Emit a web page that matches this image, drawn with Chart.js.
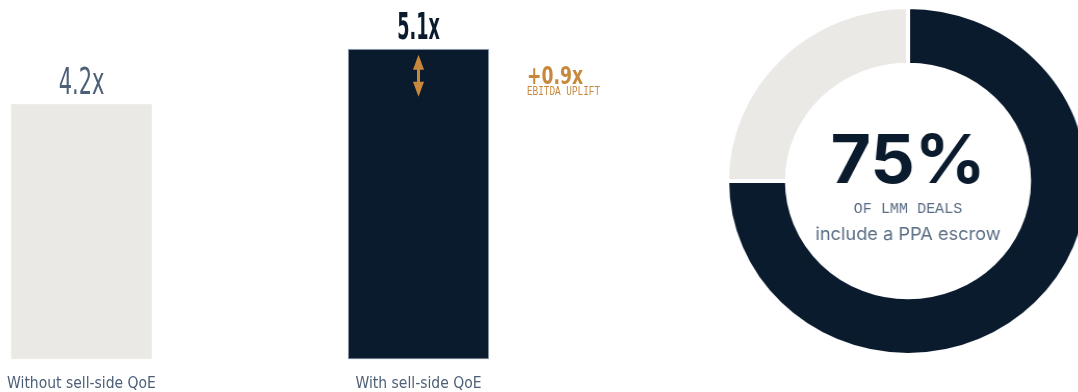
<!DOCTYPE html>
<html>
<head>
<meta charset="utf-8">
<script src="https://cdn.jsdelivr.net/npm/chart.js@4.4.1/dist/chart.umd.min.js"></script>
<style>
  html, body { margin: 0; padding: 0; background: #ffffff; overflow: hidden; }
  body { width: 1078px; height: 392px; position: relative; }
  #barWrap { position: absolute; left: -87px; top: 0; width: 704px; height: 408px; }
  #donutWrap { position: absolute; left: 727.5px; top: 1px; width: 360px; height: 360px; transform: scaleX(1.04); transform-origin: 50% 50%; }
</style>
</head>
<body>
<div id="barWrap"><canvas id="bars"></canvas></div>
<div id="donutWrap"><canvas id="donut"></canvas></div>
<script>
// ---- data ----
const categories = ['Without sell-side QoE', 'With sell-side QoE'];
const multiples = [4.2, 5.1];
const valueLabels = ['4.2x', '5.1x'];
const upliftLabel = '+0.9x';
const upliftCaption = 'EBITDA UPLIFT';
const shareCategories = ['Include a PPA escrow', 'No PPA escrow'];
const shareValues = [75, 25];
const shareHeadline = '75%';
const shareCaption1 = 'OF LMM DEALS';
const shareCaption2 = 'include a PPA escrow';

// ---- styles ----
const NAVY = '#0b1b2e';
const LIGHT = '#eae9e5';
const SLATE = '#4c5f76';
const ORANGE = '#c8883c';
const CONDENSED = "'DejaVu Sans Condensed', 'DejaVu Sans', sans-serif";
const MONO = "'Liberation Mono', 'DejaVu Sans Mono', monospace";
const GEO = "'Inter', 'Noto Sans', sans-serif";

const barLabels = {
  id: 'barLabels',
  afterDatasetsDraw(chart) {
    const ctx = chart.ctx;
    const meta = chart.getDatasetMeta(0);
    const y = chart.scales.y;
    meta.data.forEach((bar, i) => {
      ctx.save();
      ctx.font = (i === 1 ? '700 ' : '200 ') + '37px ' + CONDENSED;
      ctx.fillStyle = i === 1 ? NAVY : SLATE;
      ctx.textAlign = 'center';
      ctx.textBaseline = 'alphabetic';
      ctx.translate(bar.x, bar.y - 10);
      ctx.scale(i === 1 ? 0.53 : 0.63, 1);
      ctx.fillText(valueLabels[i], 0, 0);
      ctx.restore();
    });
    // uplift arrow on second bar
    const b = meta.data[1];
    const top = y.getPixelForValue(multiples[1]) + 6;
    const bot = y.getPixelForValue(multiples[0]) - 7;
    const x = b.x;
    ctx.save();
    ctx.fillStyle = ORANGE;
    ctx.strokeStyle = ORANGE;
    ctx.lineWidth = 3;
    ctx.beginPath(); ctx.moveTo(x, top + 12); ctx.lineTo(x, bot - 12); ctx.stroke();
    ctx.beginPath(); ctx.moveTo(x, top); ctx.lineTo(x - 5.5, top + 15); ctx.lineTo(x + 5.5, top + 15); ctx.closePath(); ctx.fill();
    ctx.beginPath(); ctx.moveTo(x, bot); ctx.lineTo(x - 5.5, bot - 15); ctx.lineTo(x + 5.5, bot - 15); ctx.closePath(); ctx.fill();
    // uplift text
    const mid = (top + bot) / 2;
    ctx.textAlign = 'left';
    ctx.textBaseline = 'alphabetic';
    ctx.save();
    ctx.translate(x + 108.5, mid + 8.5);
    ctx.scale(0.8, 1);
    ctx.font = '700 24px ' + CONDENSED;
    ctx.fillText(upliftLabel, 0, 0);
    ctx.restore();
    ctx.save();
    ctx.translate(x + 108.5, mid + 19.5);
    ctx.scale(0.78, 1);
    ctx.font = '400 12px ' + MONO;
    ctx.fillText(upliftCaption, 0, 0);
    ctx.restore();
    ctx.restore();
  }
};

new Chart(document.getElementById('bars'), {
  type: 'bar',
  data: {
    labels: categories,
    datasets: [{
      data: multiples,
      backgroundColor: [LIGHT, NAVY],
      borderColor: [LIGHT, '#9aa8ba'],
      borderWidth: 1,
      borderSkipped: false,
      barPercentage: 0.42,
      categoryPercentage: 1
    }]
  },
  options: {
    responsive: true,
    maintainAspectRatio: false,
    animation: false,
    events: [],
    layout: { padding: { top: 24.5, bottom: 0, left: 0, right: 30 } },
    plugins: { legend: { display: false }, tooltip: { enabled: false } },
    scales: {
      x: {
        grid: { display: false, drawTicks: false },
        border: { display: false },
        ticks: { color: SLATE, font: { family: CONDENSED, size: 15.5 }, padding: 15 }
      },
      y: { display: false, min: 0, max: 5.5 }
    }
  },
  plugins: [barLabels]
});

const centerText = {
  id: 'centerText',
  afterDraw(chart) {
    const arc = chart.getDatasetMeta(0).data[0];
    const cx = arc.x, cy = arc.y;
    const ctx = chart.ctx;
    ctx.save();
    ctx.textAlign = 'center';
    ctx.textBaseline = 'alphabetic';
    ctx.fillStyle = NAVY;
    ctx.font = '700 67px ' + GEO;
    ctx.fillText(shareHeadline, cx, cy + 2);
    ctx.fillStyle = '#5a6d84';
    ctx.font = '400 14.5px ' + MONO;
    ctx.fillText(shareCaption1, cx, cy + 32);
    ctx.font = '400 17.5px ' + GEO;
    ctx.fillText(shareCaption2, cx, cy + 59);
    ctx.restore();
  }
};

new Chart(document.getElementById('donut'), {
  type: 'doughnut',
  data: {
    labels: shareCategories,
    datasets: [{
      data: shareValues,
      backgroundColor: [NAVY, LIGHT],
      borderColor: '#ffffff',
      borderWidth: 4,
      radius: 174,
      cutout: 119
    }]
  },
  options: {
    responsive: true,
    maintainAspectRatio: false,
    animation: false,
    events: [],
    plugins: { legend: { display: false }, tooltip: { enabled: false } }
  },
  plugins: [centerText]
});
</script>
</body>
</html>
